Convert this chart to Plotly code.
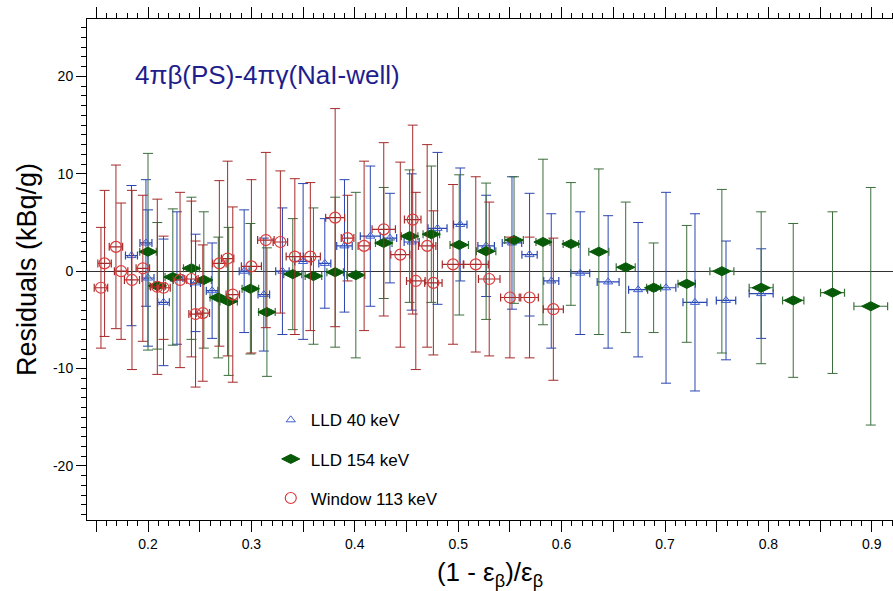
import plotly.graph_objects as go

# LLD 40 keV
lld40_x = [0.184, 0.198, 0.200, 0.215, 0.228, 0.246, 0.262, 0.293, 0.312, 0.330,
           0.350, 0.371, 0.390, 0.415, 0.434, 0.455, 0.480, 0.502, 0.527, 0.552,
           0.569, 0.590, 0.618, 0.645, 0.674, 0.701, 0.729, 0.759, 0.793]
lld40_y = [1.6, 2.9, -0.7, -3.2, -0.7, -1.2, -2.0, 0.0, -2.4, 0.0,
           1.0, 0.8, 2.6, 3.6, 3.4, 3.0, 4.4, 4.8, 2.6, 2.9,
           1.7, -1.0, -0.2, -1.1, -1.9, -1.7, -3.2, -3.0, -2.3]
lld40_yerr = [7.2, 6.5, 7.0, 6.5, 6.8, 5.0, 4.9, 6.3, 5.8, 6.5,
              8.0, 4.6, 6.8, 7.2, 4.6, 7.0, 7.8, 5.8, 5.2, 6.8,
              6.3, 6.9, 6.3, 6.8, 6.9, 9.8, 9.1, 6.1, 4.6]
lld40_xerr = [0.0058, 0.0058, 0.0058, 0.0056, 0.0058, 0.0048, 0.0056, 0.0048, 0.0056, 0.0065,
              0.0080, 0.0058, 0.0075, 0.0097, 0.0065, 0.0073, 0.0092, 0.0065, 0.0080, 0.0094,
              0.0074, 0.0073, 0.0092, 0.0106, 0.0092, 0.0095, 0.0116, 0.0094, 0.0116]

# LLD 154 keV
lld154_x = [0.200, 0.209, 0.224, 0.242, 0.254, 0.268, 0.278, 0.299, 0.315, 0.340,
            0.360, 0.381, 0.401, 0.428, 0.453, 0.474, 0.501, 0.527, 0.554, 0.582,
            0.609, 0.636, 0.662, 0.689, 0.721, 0.755, 0.793, 0.824, 0.862, 0.899]
lld154_y = [2.0, -1.5, -0.6, 0.3, -0.9, -2.7, -3.1, -1.8, -4.2, -0.3,
            -0.5, -0.1, -0.4, 2.9, 3.6, 3.8, 2.7, 2.05, 3.2, 3.0,
            2.8, 2.0, 0.4, -1.7, -1.3, 0.0, -1.7, -3.0, -2.2, -3.6]
lld154_yerr = [10.1, 6.5, 7.0, 7.3, 7.0, 6.2, 7.6, 6.7, 6.6, 5.7,
               7.0, 7.7, 8.5, 5.7, 6.8, 7.0, 7.2, 7.0, 6.5, 8.5,
               6.3, 8.5, 6.7, 4.6, 6.0, 8.4, 7.8, 7.9, 8.3, 12.2]
lld154_xerr = [0.0080, 0.0080, 0.0075, 0.0077, 0.0073, 0.0080, 0.0084, 0.0080, 0.0080, 0.0087,
               0.0080, 0.0080, 0.0087, 0.0080, 0.0080, 0.0080, 0.0089, 0.0094, 0.0090, 0.0068,
               0.0075, 0.0097, 0.0092, 0.0068, 0.0084, 0.0116, 0.0116, 0.0103, 0.0116, 0.0163]

# Window 113 keV
win113_x = [0.1545, 0.158, 0.169, 0.174, 0.1845, 0.195, 0.209, 0.215, 0.231, 0.242,
            0.246, 0.253, 0.269, 0.277, 0.282, 0.300, 0.314, 0.328, 0.342, 0.357,
            0.381, 0.393, 0.409, 0.428, 0.444, 0.456, 0.459, 0.470, 0.476, 0.495,
            0.517, 0.530, 0.550, 0.569, 0.592]
win113_y = [-1.7, 0.8, 2.5, 0.0, -0.9, 0.3, -1.6, -1.7, -0.9, -0.8,
            -4.4, -4.3, 0.8, 1.3, -2.4, 0.5, 3.2, 3.0, 1.5, 1.5,
            5.5, 3.4, 2.6, 4.3, 1.7, 5.3, -1.0, 2.6, -1.2, 0.7,
            0.7, -0.8, -2.7, -2.7, -3.9]
win113_yerr = [6.2, 7.5, 8.4, 7.0, 9.2, 7.5, 9.0, 5.3, 9.0, 8.0,
               7.5, 7.0, 8.5, 10.0, 9.0, 8.9, 9.0, 7.3, 8.0, 7.6,
               11.2, 4.4, 8.7, 8.9, 9.5, 9.7, 9.1, 10.4, 7.4, 8.2,
               9.0, 7.9, 6.2, 6.2, 7.3]
win113_xerr = [0.0065, 0.0065, 0.0065, 0.0065, 0.0073, 0.0065, 0.0065, 0.0065, 0.0065, 0.0065,
               0.0065, 0.0065, 0.0065, 0.0060, 0.0065, 0.0097, 0.0080, 0.0070, 0.0084, 0.0097,
               0.0092, 0.0061, 0.0058, 0.0113, 0.0092, 0.0080, 0.0090, 0.0084, 0.0084, 0.0104,
               0.0121, 0.0104, 0.0090, 0.0085, 0.0097]

y_tick_vals = [-20, -10, 0, 10, 20]
y_tick_text = ["-20", "-10", "0", "10", "20"]

FONT = "Liberation Sans, Arial, sans-serif"

fig = go.Figure()


def add_series(name, xs, ys, xe, ye, symbol, size, mcolor, ecolor, group, lw=1.0):
    fig.add_trace(go.Scatter(
        x=xs, y=ys, mode="markers", name=name, legendgroup=group,
        marker=dict(symbol=symbol, size=size, color=mcolor,
                    line=dict(color=mcolor, width=lw)),
        error_y=dict(type="data", array=ye, visible=True, color=ecolor,
                     thickness=1, width=5),
        error_x=dict(type="data", array=xe, visible=True, color=ecolor,
                     thickness=1.2, width=4),
    ))


add_series("LLD 40 keV", lld40_x, lld40_y, lld40_xerr, lld40_yerr,
           "triangle-up-open", 8, "#3d5fd0", "#2a46b0", "g1")
add_series("LLD 154 keV", lld154_x, lld154_y, lld154_xerr, lld154_yerr,
           "diamond-wide", 13, "#075a07", "#3c6e3c", "g2")
add_series("Window 113 keV", win113_x, win113_y, win113_xerr, win113_yerr,
           "circle-open", 11, "#dc3b3b", "#a52a2a", "g3", lw=1.2)

fig.add_annotation(
    text="4πβ(PS)-4πγ(NaI-well)", xref="paper", yref="paper",
    x=0.057, y=0.888, xanchor="left", yanchor="middle", showarrow=False,
    font=dict(family=FONT, size=26, color="#1e1e8c"),
)

fig.update_layout(
    width=893, height=591,
    margin=dict(l=87, r=0, t=19, b=71),
    paper_bgcolor="white", plot_bgcolor="white",
    font=dict(family=FONT, color="black"),
    showlegend=True,
    legend=dict(
        x=0.228, y=0.235, xanchor="left", yanchor="top",
        bgcolor="rgba(0,0,0,0)", font=dict(family=FONT, size=17, color="black"),
        tracegroupgap=14,
    ),
    xaxis=dict(
        range=[0.141, 0.9205], showgrid=False, zeroline=False,
        showline=True, linecolor="black", linewidth=1, mirror="ticks",
        ticks="outside", ticklen=11, tickcolor="black", tickwidth=1,
        tickmode="linear", tick0=0, dtick=0.05, ticklabelstep=2,
        tickformat=".1f",
        tickfont=dict(family=FONT, size=14, color="black"),
        minor=dict(tickmode="linear", tick0=0, dtick=0.01, ticks="outside",
                   ticklen=5, tickcolor="black", tickwidth=1, showgrid=False),
        title=dict(text="(1 - ε<sub>β</sub>)/ε<sub>β</sub>", standoff=12,
                   font=dict(family=FONT, size=26, color="black")),
    ),
    yaxis=dict(
        range=[-25.55, 25.9], showgrid=False,
        zeroline=True, zerolinecolor="#333333", zerolinewidth=1,
        showline=True, linecolor="black", linewidth=1, mirror=False,
        ticks="outside", ticklen=10, tickcolor="black", tickwidth=1,
        tickmode="array", tickvals=y_tick_vals, ticktext=y_tick_text,
        tickfont=dict(family=FONT, size=14, color="black"),
        minor=dict(tickmode="linear", tick0=0, dtick=1, ticks="outside",
                   ticklen=5, tickcolor="black", tickwidth=1, showgrid=False),
        title=dict(text="Residuals (kBq/g)", standoff=8,
                   font=dict(family=FONT, size=27, color="black")),
    ),
)

fig.write_html("out.html")
